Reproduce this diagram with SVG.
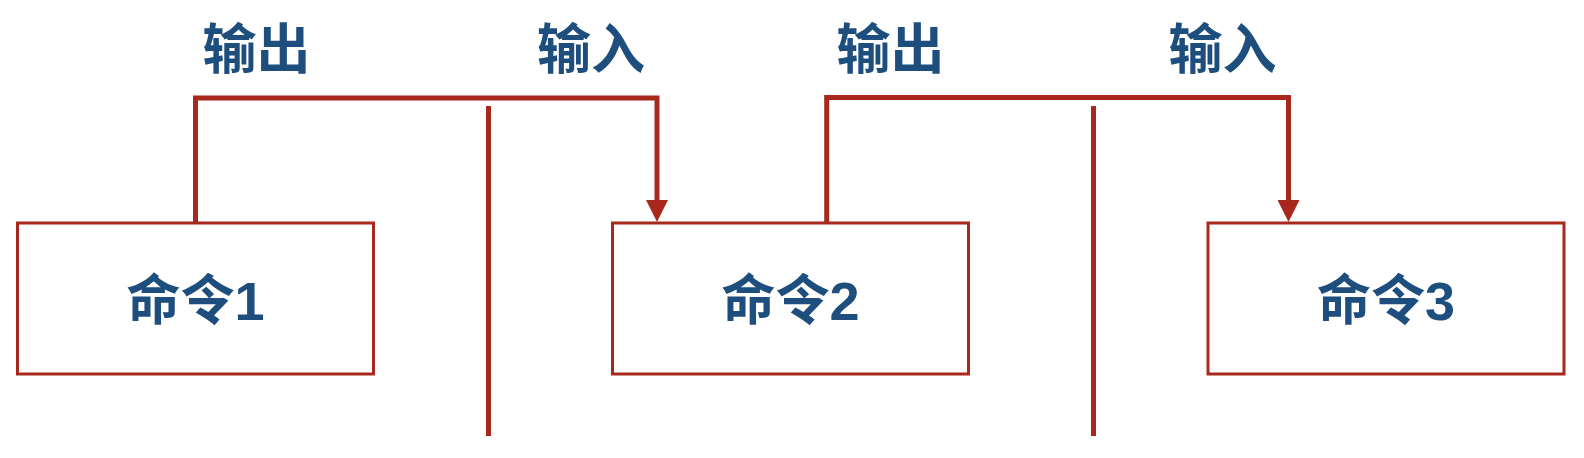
<svg xmlns="http://www.w3.org/2000/svg" width="1584" height="458" viewBox="0 0 1584 458">
  <style>
    .box { fill: #ffffff; stroke: #a8291b; stroke-width: 3; }
    .conn { fill: none; stroke: #a8291b; stroke-width: 5; stroke-linejoin: miter; stroke-linecap: butt; }
    .txt { font-family: "Liberation Sans", "Noto Sans CJK SC", sans-serif; font-weight: bold; font-size: 54px; fill: #1d4e7e; text-anchor: middle; }
  </style>
  <defs>
    <marker id="arrow" viewBox="0 0 22 22" refX="0" refY="11" markerWidth="22" markerHeight="22" markerUnits="userSpaceOnUse" orient="auto">
      <path d="M0,0 L22,11 L0,22 Z" fill="#a8291b"/>
    </marker>
  </defs>
  <rect width="1584" height="458" fill="#ffffff"/>

  <g id="labels">
    <text class="txt" x="256.5" y="69">输出</text>
    <text class="txt" x="591" y="69">输入</text>
    <text class="txt" x="890.5" y="69">输出</text>
    <text class="txt" x="1222.5" y="69">输入</text>
  </g>

  <g id="connectors">
    <path class="conn" d="M195.5,223 V98 H657 V200" marker-end="url(#arrow)"/>
    <path class="conn" d="M826.7,223 V97.5 H1288.5 V200" marker-end="url(#arrow)"/>
    <line class="conn" x1="488.5" y1="106" x2="488.5" y2="436"/>
    <line class="conn" x1="1093.5" y1="106" x2="1093.5" y2="436"/>
  </g>

  <g id="cmd1">
    <rect class="box" x="17.5" y="223" width="356" height="151"/>
    <text class="txt" x="195.5" y="320">命令1</text>
  </g>
  <g id="cmd2">
    <rect class="box" x="612.5" y="223" width="356" height="151"/>
    <text class="txt" x="790.5" y="320">命令2</text>
  </g>
  <g id="cmd3">
    <rect class="box" x="1208" y="223" width="356" height="151"/>
    <text class="txt" x="1386" y="320">命令3</text>
  </g>
</svg>
